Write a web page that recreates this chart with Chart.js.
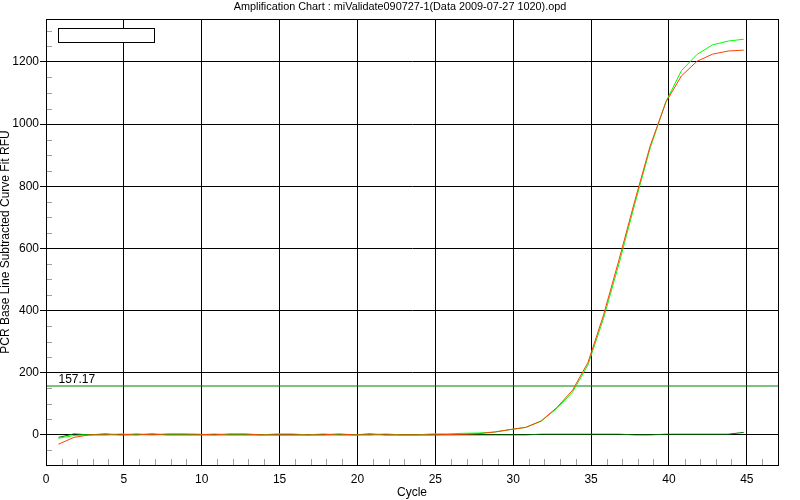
<!DOCTYPE html>
<html>
<head>
<meta charset="utf-8">
<script src="https://cdn.jsdelivr.net/npm/chart.js@4"></script>
<style>
  html, body { margin: 0; padding: 0; background: #fff; }
  #wrap { width: 800px; height: 500px; }
</style>
</head>
<body>
<div id="wrap"><canvas id="amp"></canvas></div>
<script>
// Ciclos (los puntos caen en x.8)
const cycles = [0.8, 1.8, 2.8, 3.8, 4.8, 5.8, 6.8, 7.8, 8.8, 9.8,
                10.8, 11.8, 12.8, 13.8, 14.8, 15.8, 16.8, 17.8, 18.8, 19.8,
                20.8, 21.8, 22.8, 23.8, 24.8, 25.8, 26.8, 27.8, 28.8, 29.8,
                30.8, 31.8, 32.8, 33.8, 34.8, 35.8, 36.8, 37.8, 38.8, 39.8,
                40.8, 41.8, 42.8, 43.8, 44.8];

// Curva roja (RFU)
const redRFU = [-30, -8, 0, 0, 0, 3, 0, 3, 3, 2,
                0, 3, 3, 0, 0, 0, 0, 0, 3, 0,
                0, 0, 0, 0, 0, 1, 2, 4, 9, 17,
                24, 45, 88, 143, 233, 386, 565, 752, 931, 1070,
                1155, 1202, 1225, 1235, 1238];

// Curva verde (RFU)
const greenRFU = [-11, -2, 0, 0, 3, 0, 0, 0, 0, 0,
                  3, 0, 0, 0, 3, 3, 0, 3, 0, 0,
                  0, 3, 0, 0, 3, 3, 5, 6, 9, 17,
                  24, 44, 85, 137, 225, 375, 552, 742, 924, 1072,
                  1172, 1224, 1255, 1267, 1273];

// Control negativo (verde oscuro)
const darkRFU = [-8, 3, 0, 3, 0, 0, 3, 0, 0, 0,
                 0, 0, 0, 0, 0, 0, 0, 0, 0, 0,
                 3, 0, 0, 0, 0, 0, 0, 0, 0, 0,
                 0, 2, 2, 2, 2, 2, 2, 0, 0, 2,
                 2, 2, 2, 2, 8];

// Umbral
const thresholdValue = 157.17;
const thresholdRange = [0, 47];

// Marcas de los ejes
const xTickValues = [0, 5, 10, 15, 20, 25, 30, 35, 40, 45];
const yTickValues = [0, 200, 400, 600, 800, 1000, 1200];

const font = { family: '"Liberation Sans", Arial, sans-serif', size: 12 };

function toPoints(xs, ys) {
    return xs.map((x, i) => ({ x: x, y: ys[i] }));
}

// Plugin: marco, marcas menores, caja de leyenda y etiqueta del umbral
const extrasPlugin = {
    id: 'extras',
    afterDatasetsDraw(chart) {
        const { ctx, chartArea: a, scales: { x, y } } = chart;
        ctx.save();

        // marcas menores grises
        ctx.strokeStyle = '#a0a0a0';
        ctx.lineWidth = 1;
        ctx.beginPath();
        for (let c = 1; c < 47; c++) {
            if (c % 5 === 0) continue;
            const px = Math.round(x.getPixelForValue(c)) + 0.5;
            ctx.moveTo(px, a.bottom);
            ctx.lineTo(px, a.bottom - 6);
        }
        for (let v = -50; v < 1338; v += 50) {
            if (v % 200 === 0) continue;
            const py = Math.round(y.getPixelForValue(v)) + 0.5;
            ctx.moveTo(a.left, py);
            ctx.lineTo(a.left + 6, py);
        }
        ctx.stroke();

        // marco del area
        ctx.strokeStyle = '#000';
        ctx.strokeRect(Math.round(a.left) + 0.5, Math.round(a.top) + 0.5,
                       Math.round(a.right - a.left), Math.round(a.bottom - a.top));

        // caja de leyenda vacia
        ctx.fillStyle = '#fff';
        ctx.fillRect(58.5, 28.5, 96, 14);
        ctx.strokeRect(58.5, 28.5, 96, 14);

        // etiqueta del umbral
        ctx.fillStyle = '#000';
        ctx.font = '12px "Liberation Sans", Arial, sans-serif';
        ctx.textBaseline = 'alphabetic';
        ctx.textAlign = 'left';
        ctx.fillText(thresholdValue.toFixed(2), x.getPixelForValue(0.8), y.getPixelForValue(thresholdValue) - 3);

        ctx.restore();
    }
};

new Chart(document.getElementById('amp'), {
    type: 'line',
    data: {
        datasets: [
            { data: toPoints(cycles, redRFU), borderColor: '#ff4000', borderWidth: 1 },
            { data: toPoints(cycles, greenRFU), borderColor: '#00ff00', borderWidth: 1 },
            { data: toPoints(cycles, darkRFU), borderColor: '#007000', borderWidth: 1 },
            { data: thresholdRange.map(v => ({ x: v, y: thresholdValue })), borderColor: '#008000', borderWidth: 1 }
        ]
    },
    options: {
        responsive: true,
        maintainAspectRatio: false,
        animation: false,
        events: [],
        elements: { point: { radius: 0 }, line: { tension: 0 } },
        plugins: {
            legend: { display: false },
            tooltip: { enabled: false },
            title: {
                display: true,
                text: 'Amplification Chart : miValidate090727-1(Data 2009-07-27 1020).opd',
                color: '#000',
                font: { family: font.family, size: 10.85, weight: 'normal', lineHeight: 1.2 },
                padding: { top: 0.5, bottom: 5.5 }
            }
        },
        scales: {
            x: {
                type: 'linear',
                min: 0,
                max: 47,
                afterBuildTicks: s => { s.ticks = xTickValues.map(v => ({ value: v })); },
                afterFit: s => { s.height = 35; },
                grid: { color: '#000', lineWidth: 1, drawTicks: false },
                border: { color: '#000' },
                ticks: { color: '#000', font: font, padding: 7, maxRotation: 0, autoSkip: false, callback: v => String(v) },
                title: { display: true, text: 'Cycle', color: '#000', font: font, padding: { top: 0, bottom: 0 } }
            },
            y: {
                min: -97,
                max: 1338,
                afterBuildTicks: s => { s.ticks = yTickValues.map(v => ({ value: v })); },
                afterFit: s => { s.width = 46; },
                grid: { color: '#000', lineWidth: 1, tickLength: 6, tickColor: '#000' },
                border: { color: '#000' },
                ticks: { color: '#000', font: font, padding: 1, autoSkip: false, callback: v => String(v) },
                title: {
                    display: true,
                    text: 'PCR Base Line Subtracted Curve Fit RFU',
                    color: '#000',
                    font: { family: font.family, size: 12, lineHeight: 1 },
                    padding: 0
                }
            },
            // margen derecho vacio (22 px) sin desplazar el titulo
            yRight: {
                position: 'right',
                min: -97,
                max: 1338,
                afterFit: s => { s.width = 22; },
                grid: { display: false },
                border: { display: false },
                ticks: { display: false }
            }
        }
    },
    plugins: [extrasPlugin]
});
</script>
</body>
</html>
